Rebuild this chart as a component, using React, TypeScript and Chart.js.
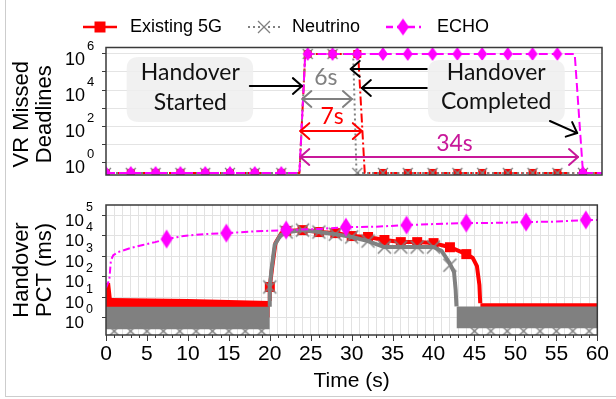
import React, { useEffect, useRef } from 'react';
import { Chart, registerables } from 'chart.js';

Chart.register(...registerables);

const FONT = '"Liberation Sans", Arial, Helvetica, sans-serif';
const ANNOT_FONT = 'Lato, "Open Sans", sans-serif';

const RED = '#ff0000';
const GRAY = '#808080';
const MAGENTA = '#ff00ff';
const PURPLE = '#c8189a';

// ---------- labels ----------
const seriesNames = ['Existing 5G', 'Neutrino', 'ECHO'];
const topYTitle = ['VR Missed', 'Deadlines'];
const bottomYTitle = ['Handover', 'PCT (ms)'];
const xTitle = 'Time (s)';
const timeMin = 0;
const timeMax = 60;
const xTickValues = [0, 5, 10, 15, 20, 25, 30, 35, 40, 45, 50, 55, 60];
const xTickLabels = ['0', '5', '10', '15', '20', '25', '30', '35', '40', '45', '50', '55', '60'];
const topYTickExps = [6, 4, 2, 0];
const topYGridExps = [6, 5, 4, 3, 2, 1, 0];
const bottomYTickExps = [5, 4, 3, 2, 1, 0];

// ---------- top panel: VR missed deadlines ----------
const existingTopX = [0, 23.4, 24.1, 30.5, 31.3, 60];
const existingTopY = [0.25, 0.25, 1e6, 1e6, 0.25, 0.25];
const neutrinoTopX = [0, 23.4, 24.1, 29.9, 30.3, 60];
const neutrinoTopY = [0.25, 0.25, 1e6, 1e6, 0.25, 0.25];
const echoTopX = [0, 23.4, 24.1, 56.7, 57.7, 60];
const echoTopY = [0.25, 0.25, 1e6, 1e6, 0.25, 0.25];
const topMarkerX = [0, 3, 6, 9, 12, 15, 18, 21.2, 24.4, 27.4, 30.4, 33.5, 36.5, 39.5, 42.5, 45.5, 48.6, 51.6, 54.6, 57.7];
const existingTopMarkY = [0.25, 0.25, 0.25, 0.25, 0.25, 0.25, 0.25, 0.25, 1e6, 1e6, 1e6, 0.25, 0.25, 0.25, 0.25, 0.25, 0.25, 0.25, 0.25, 0.25];
const neutrinoTopMarkY = [0.25, 0.25, 0.25, 0.25, 0.25, 0.25, 0.25, 0.25, 1e6, 1e6, 0.25, 0.25, 0.25, 0.25, 0.25, 0.25, 0.25, 0.25, 0.25, 0.25];
const echoTopMarkY = [0.25, 0.25, 0.25, 0.25, 0.25, 0.25, 0.25, 0.25, 1e6, 1e6, 1e6, 1e6, 1e6, 1e6, 1e6, 1e6, 1e6, 1e6, 1e6, 0.25];

// ---------- bottom panel: handover PCT (ms) ----------
const existingBandAX = [0, 0.5, 0.7, 10, 20];
const existingBandAHigh = [48, 48, 9, 8, 6.5];
const existingBandALowX = [0, 20];
const existingBandALow = [1, 1];
const existingCurveX = [20, 20, 20.3, 20.7, 21.4, 22.2, 24, 26, 28, 30, 32, 34, 36, 38, 40, 42, 44, 44.8, 45.3, 45.6, 45.7];
const existingCurveY = [6.5, 31, 290, 4300, 13000, 16600, 18500, 14800, 13200, 9500, 8500, 6100, 4800, 4800, 4300, 2700, 1250, 800, 320, 39, 5];
const existingBandBX = [45.7, 60];
const existingBandBHigh = [5, 5];
const existingBandBLow = [1, 1];
const existingMarkX = [20, 22, 24, 26, 28, 30, 32, 34, 36, 38, 40, 42, 44];
const existingMarkY = [31, 16600, 18500, 14800, 13200, 9500, 8500, 6100, 4800, 4800, 4300, 2700, 1250];

const neutrinoBandAX = [0, 20];
const neutrinoBandAHigh = [3.4, 3.4];
const neutrinoBandALow = [0.27, 0.27];
const neutrinoCurveX = [20, 20, 20.2, 20.6, 21.3, 22.3, 24, 26, 28, 30, 32, 34, 36, 38, 40, 41, 41.9, 42.5, 42.7, 42.8];
const neutrinoCurveY = [3.4, 31, 210, 3500, 10500, 14800, 18500, 14800, 11700, 8500, 5400, 2750, 2750, 2750, 2750, 1750, 500, 165, 22, 3.5];
const neutrinoBandBX = [42.8, 60];
const neutrinoBandBHigh = [3.5, 3.5];
const neutrinoBandBLow = [0.3, 0.3];
const neutrinoMarkX = [20, 22, 24, 26, 28, 30, 32, 34, 36, 38, 40, 42];
const neutrinoMarkY = [31, 15000, 18500, 14800, 11700, 8500, 5400, 2750, 2750, 2750, 2750, 360];
const neutrinoLowMarkX = [1, 3, 5, 7, 9, 11, 13, 15, 17, 19, 45, 47, 49, 51, 53, 55, 57, 59];
const neutrinoLowMarkY = [0.22, 0.22, 0.22, 0.22, 0.22, 0.22, 0.22, 0.22, 0.22, 0.22, 0.22, 0.22, 0.22, 0.22, 0.22, 0.22, 0.22, 0.22];

const echoBottomX = [0, 0.4, 0.6, 0.9, 1.5, 3, 4.5, 6, 7.4, 9.5, 12, 14.7, 18, 22, 26, 29.3, 33, 36.7, 40, 44, 48, 51.3, 55, 58.6, 60];
const echoBottomY = [28, 68, 630, 1120, 1580, 2450, 3470, 4790, 6760, 9550, 11700, 13200, 15800, 18600, 20900, 25700, 26900, 32400, 36300, 40700, 41700, 45700, 47900, 57500, 57500];
const echoMarkX = [7.4, 14.7, 22, 29.3, 36.7, 44, 51.3, 58.6];
const echoMarkY = [6760, 13200, 18600, 25700, 32400, 40700, 45700, 57500];

// ---------- annotations (data coords: seconds, log10 value) ----------
const annotBoxes = [
  { x0: 2.5, x1: 17.8, y0: 5.83, y1: 2.22, lines: ['Handover', 'Started'], tx: 10.2, ty: [4.94, 3.28] },
  { x0: 38.95, x1: 55.5, y0: 5.67, y1: 2.22, lines: ['Handover', 'Completed'], tx: 47.2, ty: [4.94, 3.33] },
];
const annotArrows = [
  { x0: 17.4, y0: 4.22, x1: 23.7, y1: 4.22, color: '#000', both: false },
  { x0: 38.8, y0: 5.17, x1: 29.6, y1: 5.17, color: '#000', both: false },
  { x0: 38.8, y0: 4.11, x1: 30.95, y1: 4.11, color: '#000', both: false },
  { x0: 53.7, y0: 2.28, x1: 57.0, y1: 1.61, color: '#000', both: false },
  { x0: 23.75, y0: 3.5, x1: 29.75, y1: 3.5, color: GRAY, both: true },
  { x0: 23.5, y0: 1.72, x1: 30.95, y1: 1.72, color: RED, both: true },
  { x0: 23.5, y0: 0.28, x1: 57.1, y1: 0.28, color: PURPLE, both: true },
];
const annotLabels = [
  { text: '6s', x: 26.6, y: 4.67, color: GRAY },
  { text: '7s', x: 27.35, y: 2.5, color: RED },
  { text: '34s', x: 42.15, y: 1.03, color: PURPLE },
];

// ---------- helpers ----------
const pts = (xs: number[], ys: number[]) => xs.map((x, i) => ({ x, y: ys[i] }));

function makeMarker(kind: string, w: number, h: number, color: string, lw = 1.5) {
  const pad = 2;
  const c = document.createElement('canvas');
  c.width = Math.ceil(w + pad * 2);
  c.height = Math.ceil(h + pad * 2);
  const g = c.getContext('2d')!;
  const cx = c.width / 2;
  const cy = c.height / 2;
  g.fillStyle = color;
  g.strokeStyle = color;
  g.lineWidth = lw;
  if (kind === 'diamond') {
    g.beginPath();
    g.moveTo(cx, cy - h / 2);
    g.lineTo(cx + w / 2, cy);
    g.lineTo(cx, cy + h / 2);
    g.lineTo(cx - w / 2, cy);
    g.closePath();
    g.fill();
  } else if (kind === 'square') {
    g.fillRect(cx - w / 2, cy - h / 2, w, h);
  } else {
    g.beginPath();
    g.moveTo(cx - w / 2, cy - h / 2);
    g.lineTo(cx + w / 2, cy + h / 2);
    g.moveTo(cx + w / 2, cy - h / 2);
    g.lineTo(cx - w / 2, cy + h / 2);
    g.stroke();
  }
  return c;
}

function lineDs(xs: number[], ys: number[], color: string, width: number, dash: number[], order: number) {
  return {
    data: pts(xs, ys), borderColor: color, backgroundColor: color, borderWidth: width,
    borderDash: dash, pointRadius: 0, fill: false, order, tension: 0,
    borderCapStyle: 'butt', borderJoinStyle: 'round',
  };
}
function markDs(xs: number[], ys: number[], img: HTMLCanvasElement, order: number) {
  return {
    data: pts(xs, ys), showLine: false, pointStyle: img, pointRadius: 6, borderWidth: 0,
    borderColor: 'transparent', backgroundColor: 'transparent', order,
  };
}
function bandEdge(xs: number[], ys: number[], order: number) {
  return { data: pts(xs, ys), borderWidth: 0, borderColor: 'transparent', backgroundColor: 'transparent', pointRadius: 0, fill: false, order };
}
function bandFill(xs: number[], ys: number[], color: string, order: number) {
  return { data: pts(xs, ys), borderWidth: 0, borderColor: 'transparent', backgroundColor: color, pointRadius: 0, fill: '-1', order };
}

function drawPow(ctx: CanvasRenderingContext2D, xRight: number, y: number, exp: number, base: number, sup: number) {
  ctx.save();
  ctx.fillStyle = '#000';
  ctx.textBaseline = 'middle';
  ctx.font = `${base}px ${FONT}`;
  ctx.textAlign = 'right';
  ctx.fillText('10', xRight, y + 6);
  ctx.font = `${sup}px ${FONT}`;
  ctx.textAlign = 'left';
  ctx.fillText(String(exp), xRight + 2, y - 8);
  ctx.restore();
}

function drawYTitle(ctx: CanvasRenderingContext2D, lines: string[], xs: number[], yc: number, size: number) {
  ctx.save();
  ctx.font = `${size}px ${FONT}`;
  ctx.fillStyle = '#000';
  ctx.textAlign = 'center';
  ctx.textBaseline = 'middle';
  lines.forEach((t, i) => {
    ctx.save();
    ctx.translate(xs[i], yc);
    ctx.rotate(-Math.PI / 2);
    ctx.fillText(t, 0, 0);
    ctx.restore();
  });
  ctx.restore();
}

function drawFrame(ctx: CanvasRenderingContext2D, a: any) {
  ctx.save();
  ctx.strokeStyle = '#3a3a3a';
  ctx.lineWidth = 1.5;
  ctx.strokeRect(a.left, a.top, a.right - a.left, a.bottom - a.top);
  ctx.restore();
}

function head(ctx: CanvasRenderingContext2D, x: number, y: number, ang: number, len = 12, spread = 0.72) {
  ctx.beginPath();
  ctx.moveTo(x - len * Math.cos(ang - spread), y - len * Math.sin(ang - spread));
  ctx.lineTo(x, y);
  ctx.lineTo(x - len * Math.cos(ang + spread), y - len * Math.sin(ang + spread));
  ctx.stroke();
}

function roundRect(ctx: CanvasRenderingContext2D, x: number, y: number, w: number, h: number, r: number) {
  ctx.beginPath();
  ctx.moveTo(x + r, y);
  ctx.lineTo(x + w - r, y);
  ctx.quadraticCurveTo(x + w, y, x + w, y + r);
  ctx.lineTo(x + w, y + h - r);
  ctx.quadraticCurveTo(x + w, y + h, x + w - r, y + h);
  ctx.lineTo(x + r, y + h);
  ctx.quadraticCurveTo(x, y + h, x, y + h - r);
  ctx.lineTo(x, y + r);
  ctx.quadraticCurveTo(x, y, x + r, y);
  ctx.closePath();
}

export default function App() {
  const topRef = useRef<HTMLCanvasElement>(null);
  const botRef = useRef<HTMLCanvasElement>(null);

  useEffect(() => {
    Chart.defaults.font.family = FONT;
    const sqTop = makeMarker('square', 8, 8, RED);
    const xTop = makeMarker('x', 10, 10, GRAY, 1.3);
    const diTop = makeMarker('diamond', 10, 14, MAGENTA);
    const sqBot = makeMarker('square', 10, 10, RED);
    const xBot = makeMarker('x', 13, 13, GRAY, 1.5);
    const diBot = makeMarker('diamond', 12, 19, MAGENTA);
    const sqLeg = makeMarker('square', 11, 11, RED);
    const xLeg = makeMarker('x', 12, 12, GRAY, 1.3);
    const diLeg = makeMarker('diamond', 12, 17, MAGENTA);

    const topDecor = {
      id: 'topDecor',
      afterDraw(chart: any) {
        const { ctx, chartArea: a, scales } = chart;
        const px = (s: number) => scales.x.getPixelForValue(s);
        const py = (lv: number) => scales.y.getPixelForValue(Math.pow(10, lv));
        drawFrame(ctx, a);
        topYTickExps.forEach((e) => drawPow(ctx, 85, scales.y.getPixelForValue(Math.pow(10, e)), e, 18, 13));
        drawYTitle(ctx, topYTitle, [22, 45], (a.top + a.bottom) / 2 + 3, 22);

        // legend
        const ly = 27;
        ctx.save();
        ctx.lineWidth = 2.5;
        ctx.strokeStyle = RED;
        ctx.beginPath(); ctx.moveTo(83, ly); ctx.lineTo(117, ly); ctx.stroke();
        ctx.drawImage(sqLeg, 100 - sqLeg.width / 2, ly - sqLeg.height / 2);
        ctx.strokeStyle = GRAY; ctx.lineWidth = 2; ctx.setLineDash([2, 3]);
        ctx.beginPath(); ctx.moveTo(248, ly); ctx.lineTo(281, ly); ctx.stroke();
        ctx.setLineDash([]);
        ctx.drawImage(xLeg, 264 - xLeg.width / 2, ly - xLeg.height / 2);
        ctx.strokeStyle = MAGENTA; ctx.lineWidth = 2.5; ctx.setLineDash([7, 4]);
        ctx.beginPath(); ctx.moveTo(386, ly); ctx.lineTo(421, ly); ctx.stroke();
        ctx.setLineDash([]);
        ctx.drawImage(diLeg, 403 - diLeg.width / 2, ly - diLeg.height / 2);
        ctx.fillStyle = '#000';
        ctx.font = `18px ${FONT}`;
        ctx.textBaseline = 'middle';
        ctx.textAlign = 'left';
        ctx.fillText(seriesNames[0], 130, ly);
        ctx.fillText(seriesNames[1], 292, ly);
        ctx.fillText(seriesNames[2], 437, ly);
        ctx.restore();

        // annotations
        ctx.save();
        ctx.font = `24px ${ANNOT_FONT}`;
        const w24 = ctx.measureText('Handover').width;
        const fs = 24 * 99 / w24;
        annotBoxes.forEach((b) => {
          const x0 = px(b.x0), x1 = px(b.x1), y0 = py(b.y0), y1 = py(b.y1);
          ctx.fillStyle = 'rgba(238,238,238,0.85)';
          roundRect(ctx, x0, y0, x1 - x0, y1 - y0, 12);
          ctx.fill();
          ctx.fillStyle = '#111';
          ctx.font = `${fs}px ${ANNOT_FONT}`;
          ctx.textAlign = 'center';
          ctx.textBaseline = 'middle';
          b.lines.forEach((t, i) => ctx.fillText(t, px(b.tx), py(b.ty[i])));
        });
        annotArrows.forEach((r) => {
          const x0 = px(r.x0), x1 = px(r.x1), y0 = py(r.y0), y1 = py(r.y1);
          ctx.strokeStyle = r.color;
          ctx.lineWidth = 2;
          ctx.lineCap = 'round';
          ctx.lineJoin = 'round';
          ctx.beginPath(); ctx.moveTo(x0, y0); ctx.lineTo(x1, y1); ctx.stroke();
          const ang = Math.atan2(y1 - y0, x1 - x0);
          head(ctx, x1, y1, ang);
          if (r.both) head(ctx, x0, y0, ang + Math.PI);
        });
        annotLabels.forEach((l) => {
          ctx.fillStyle = l.color;
          ctx.font = `${fs}px ${ANNOT_FONT}`;
          ctx.textAlign = 'center';
          ctx.textBaseline = 'middle';
          ctx.fillText(l.text, px(l.x), py(l.y));
        });
        ctx.restore();
      },
    };

    const botDecor = {
      id: 'botDecor',
      afterDraw(chart: any) {
        const { ctx, chartArea: a, scales } = chart;
        drawFrame(ctx, a);
        bottomYTickExps.forEach((e) => drawPow(ctx, 84, scales.y.getPixelForValue(Math.pow(10, e)), e, 17, 12.5));
        drawYTitle(ctx, bottomYTitle, [22, 45], (a.top + a.bottom) / 2, 22);
        ctx.save();
        ctx.strokeStyle = '#3a3a3a';
        ctx.lineWidth = 1;
        for (let s = timeMin; s <= timeMax; s += 1) {
          const x = Math.round(scales.x.getPixelForValue(s)) + 0.5;
          const len = xTickValues.includes(s) ? 6 : 3;
          ctx.beginPath(); ctx.moveTo(x, a.bottom); ctx.lineTo(x, a.bottom + len); ctx.stroke();
        }
        ctx.restore();
      },
    };

    const top = new Chart(topRef.current!, {
      type: 'line',
      data: {
        datasets: [
          lineDs(existingTopX, existingTopY, RED, 2, [9, 3, 2, 3], 6),
          markDs(topMarkerX, existingTopMarkY, sqTop, 5),
          lineDs(neutrinoTopX, neutrinoTopY, GRAY, 2, [2, 3], 4),
          markDs(topMarkerX, neutrinoTopMarkY, xTop, 3),
          lineDs(echoTopX, echoTopY, MAGENTA, 2, [9, 4], 2),
          markDs(topMarkerX, echoTopMarkY, diTop, 1),
        ] as any,
      },
      options: {
        animation: false,
        responsive: false,
        events: [],
        layout: { padding: { top: 47.5, bottom: 15, left: 0, right: 14 } },
        plugins: { legend: { display: false }, tooltip: { enabled: false } },
        scales: {
          x: { type: 'linear', min: timeMin, max: timeMax, display: false },
          y: {
            type: 'logarithmic',
            min: Math.pow(10, -0.72),
            max: Math.pow(10, 6.36),
            bounds: 'data',
            afterFit: (s: any) => { s.width = 106; },
            afterBuildTicks: (s: any) => { s.ticks = topYGridExps.map((e) => ({ value: Math.pow(10, e) })); },
            ticks: { display: false },
            grid: { color: '#e4e4e4', tickColor: '#3a3a3a', tickLength: 4, drawTicks: true },
            border: { display: false },
          },
        },
      } as any,
      plugins: [topDecor],
    });

    const bot = new Chart(botRef.current!, {
      type: 'line',
      data: {
        datasets: [
          bandEdge(existingBandAX, existingBandAHigh, 9),
          bandFill(existingBandALowX, existingBandALow, RED, 9),
          bandEdge(existingBandBX, existingBandBHigh, 9),
          bandFill(existingBandBX, existingBandBLow, RED, 9),
          lineDs(existingCurveX, existingCurveY, RED, 4, [], 8),
          markDs(existingMarkX, existingMarkY, sqBot, 7),
          bandEdge(neutrinoBandAX, neutrinoBandAHigh, 6),
          bandFill(neutrinoBandAX, neutrinoBandALow, GRAY, 6),
          bandEdge(neutrinoBandBX, neutrinoBandBHigh, 6),
          bandFill(neutrinoBandBX, neutrinoBandBLow, GRAY, 6),
          lineDs(neutrinoCurveX, neutrinoCurveY, GRAY, 4, [], 5),
          markDs(neutrinoMarkX, neutrinoMarkY, xBot, 4),
          markDs(neutrinoLowMarkX, neutrinoLowMarkY, xBot, 4),
          lineDs(echoBottomX, echoBottomY, MAGENTA, 2, [7, 3, 2, 3], 2),
          markDs(echoMarkX, echoMarkY, diBot, 1),
        ] as any,
      },
      options: {
        animation: false,
        responsive: false,
        events: [],
        layout: { padding: { top: 15, bottom: 0, left: 0, right: 14 } },
        plugins: { legend: { display: false }, tooltip: { enabled: false } },
        scales: {
          x: {
            type: 'linear',
            min: timeMin,
            max: timeMax,
            afterBuildTicks: (s: any) => {
              const t: any[] = [];
              for (let v = timeMin; v <= timeMax; v += 1) t.push({ value: v });
              s.ticks = t;
            },
            afterFit: (s: any) => { s.height = 64; },
            ticks: {
              autoSkip: false, maxRotation: 0, minRotation: 0, padding: 7,
              color: '#000', font: { size: 21, family: FONT },
              callback: (v: any) => {
                const i = xTickValues.indexOf(Number(v));
                return i >= 0 ? xTickLabels[i] : '';
              },
            },
            grid: { color: '#e2e2e2', drawTicks: false },
            border: { display: false },
            title: { display: true, text: xTitle, color: '#000', font: { size: 21, family: FONT }, padding: { top: 0, bottom: 5 } },
          },
          y: {
            type: 'logarithmic',
            min: Math.pow(10, -0.85),
            max: Math.pow(10, 5.49),
            bounds: 'data',
            afterFit: (s: any) => { s.width = 106; },
            afterBuildTicks: (s: any) => { s.ticks = bottomYTickExps.map((e) => ({ value: Math.pow(10, e) })); },
            ticks: { display: false },
            grid: { color: '#e2e2e2', tickColor: '#3a3a3a', tickLength: 4, drawTicks: true },
            border: { display: false },
          },
        },
      } as any,
      plugins: [botDecor],
    });

    return () => {
      top.destroy();
      bot.destroy();
    };
  }, []);

  return (
    <div style={{ position: 'absolute', left: 0, top: 0, width: 616, height: 399, background: '#fff', overflow: 'hidden' }}>
      <div style={{ position: 'absolute', left: 5, top: 0, width: 612, height: 396, borderLeft: '1.5px solid #cdcdcd', borderBottom: '1.5px solid #cdcdcd' }} />
      <canvas ref={topRef} width={616} height={190} style={{ position: 'absolute', left: 0, top: 0 }} />
      <canvas ref={botRef} width={616} height={209} style={{ position: 'absolute', left: 0, top: 190 }} />
    </div>
  );
}
